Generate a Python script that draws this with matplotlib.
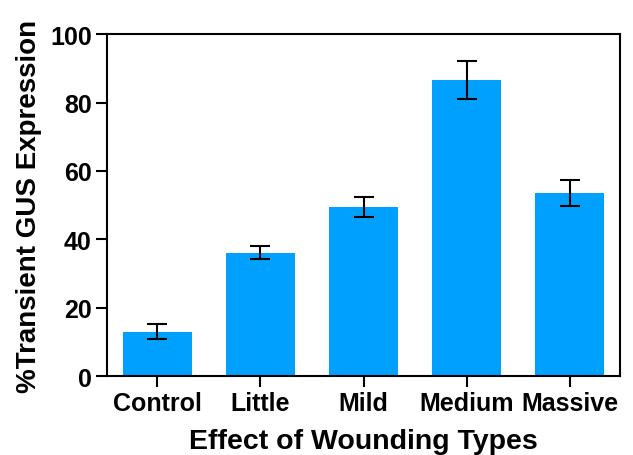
import matplotlib.pyplot as plt

plt.rcParams["font.family"] = ["Liberation Sans", "DejaVu Sans"]
plt.rcParams["font.weight"] = "bold"

categories = ["Control", "Little", "Mild", "Medium", "Massive"]
means = [13.0, 36.0, 49.5, 86.5, 53.6]
errors = [2.2, 1.9, 3.0, 5.5, 3.8]

BAR_COLOR = "#00A0FF"

fig = plt.figure(figsize=(6.33, 4.56), dpi=100)
ax = fig.add_axes([0.169, 0.173, 0.8105, 0.750])

x = range(len(categories))
ax.bar(x, means, width=0.67, color=BAR_COLOR, zorder=2)
ax.errorbar(x, means, yerr=errors, fmt="none", ecolor="black",
            elinewidth=1.5, capsize=7, capthick=1.5, zorder=3)

ax.set_xlim(-0.49, 4.49)
ax.set_ylim(0, 100)
ax.set_yticks([0, 20, 40, 60, 80, 100])
ax.set_xticks(list(x))
ax.set_xticklabels(categories)

ax.tick_params(axis="both", direction="out", length=8, width=1.5,
               labelsize=18, pad=3)
for lbl in ax.get_xticklabels() + ax.get_yticklabels():
    lbl.set_fontweight("bold")

for side in ["left", "bottom", "top", "right"]:
    ax.spines[side].set_linewidth(1.5)

ax.set_xlabel("Effect of Wounding Types", fontsize=20.5, fontweight="bold", labelpad=9)
ax.set_ylabel("%Transient GUS Expression", fontsize=20, fontweight="bold", labelpad=6)

fig.savefig("out.png", dpi=100)
